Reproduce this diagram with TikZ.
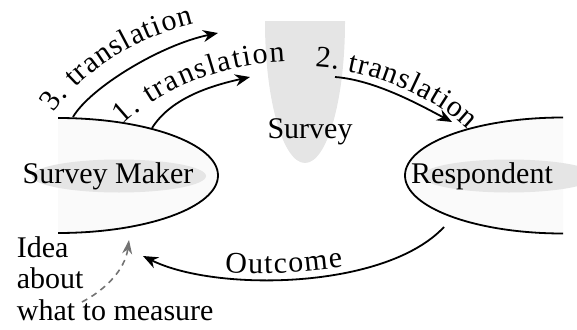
\documentclass[tikz,border=0pt]{standalone}
\usepackage{fontspec}
\setmainfont{Liberation Serif}
\usetikzlibrary{arrows.meta,decorations.text}
\newcommand\lblfont{\fontsize{30}{34}\selectfont}
\begin{document}
\begin{tikzpicture}[x=1pt,y=-1pt,line width=1.8pt,
  lightfill/.style={fill=black!2},
  innerfill/.style={fill=black!10},
  arr/.style={-{Stealth[length=15pt,width=12pt]},line width=1.8pt},
  dasharr/.style={-{Stealth[length=14pt,width=10pt]},draw=black!55,dash pattern=on 6pt off 5pt,line width=1.6pt},
  txt/.style={inner sep=0pt,font=\lblfont},
  along/.style={decorate,decoration={text along path,text align={fit to path},text={|\lblfont|#1}}}]
\useasboundingbox (0,0) rectangle (577,329);
% Survey (U shape)
\begin{scope}
  \clip (0,22) rectangle (577,329);
  \fill[innerfill] (305,22) ellipse [x radius=40,y radius=141];
\end{scope}
% Survey Maker half ellipse
\begin{scope}
  \clip (58,0) rectangle (577,329);
  \fill[lightfill] (58,175.5) ellipse [x radius=160,y radius=57.5];
\end{scope}
% Respondent half ellipse
\begin{scope}
  \clip (0,0) rectangle (563,329);
  \fill[lightfill] (563,175.5) ellipse [x radius=158,y radius=58];
\end{scope}
\fill[innerfill] (119,176) ellipse [x radius=87,y radius=16.5];
\fill[innerfill] (509,176) ellipse [x radius=87,y radius=16.5];
\begin{scope}
  \clip (58,0) rectangle (577,329);
  \draw (58,175.5) ellipse [x radius=160,y radius=57.5];
\end{scope}
\begin{scope}
  \clip (0,0) rectangle (563,329);
  \draw (563,175.5) ellipse [x radius=158,y radius=58];
\end{scope}
% texts
\node[txt,anchor=base] (maker) at (108,183) {Survey Maker};
\node[txt,anchor=base] (resp) at (482,183) {Respondent};
\node[txt,anchor=base] (survey) at (310,138) {Survey};
\node[txt,anchor=base west] (idea1) at (16,257) {Idea};
\node[txt,anchor=base west] (idea2) at (16,288) {about};
\node[txt,anchor=base west] (idea3) at (16,320) {what to measure};
% connector end points
\coordinate (t3s) at (73,117);
\coordinate (t3e) at (218,33);
\coordinate (t1s) at (152,128);
\coordinate (t1e) at (250,77);
\coordinate (t2s) at (335,77);
\coordinate (t2e) at (452,122);
\coordinate (os) at (444,227);
\coordinate (oe) at (143,256);
\coordinate (ds) at (82,302);
\coordinate (de) at (129,240);
% arrows
\draw[arr] (t3s) .. controls (90,88) and (160,45) .. (t3e);
\draw[arr] (t1s) .. controls (170,100) and (205,87) .. (t1e);
\draw[arr] (t2s) .. controls (375,80) and (420,105) .. (t2e);
\draw[arr] (os) .. controls (385,290) and (215,292) .. (oe);
\draw[dasharr] (ds) .. controls (105,290) and (125,270) .. (de);
% labels along paths
\path[along={3. translation}] (54,113) .. controls (80,75) and (128,40) .. (194,24);
\path[along={1. translation}] (123,125) .. controls (160,90) and (218,65) .. (285,62);
\path[along={2. translation}] (315,67) .. controls (370,70) and (432,95) .. (468,130);
\path[along={Outcome}] (225,272) .. controls (260,275) and (300,273) .. (343,267);
\end{tikzpicture}
\end{document}
